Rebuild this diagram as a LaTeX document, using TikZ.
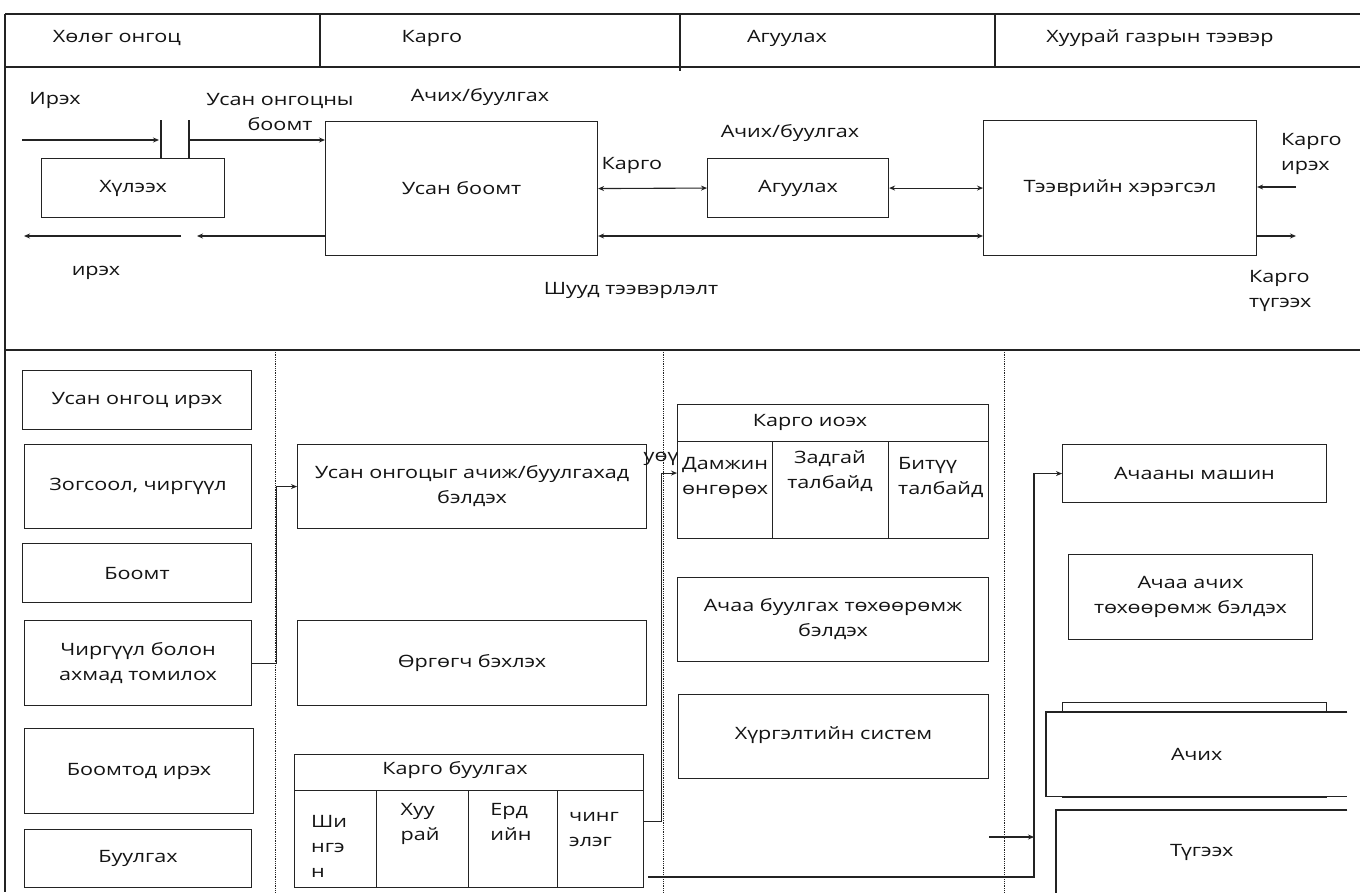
\documentclass[tikz,border=0pt]{standalone}
\usepackage{fontspec}
\setmainfont{Open Sans}[FakeStretch=1.27]
\usepackage{tikz}
\usetikzlibrary{arrows.meta,calc}
\usepackage{xcolor}
\definecolor{lineink}{RGB}{35,35,35}
\definecolor{textink}{RGB}{20,20,20}

\tikzset{
  box/.style={draw=lineink, line width=1.1pt, anchor=north west, inner sep=0pt, align=center, fill=white},
  arr/.style={draw=lineink, line width=1.1pt, -{Stealth[length=6pt,width=5pt]}},
  darr/.style={draw=lineink, line width=1.1pt, {Stealth[length=6pt,width=5pt]}-{Stealth[length=6pt,width=5pt]}},
  lbl/.style={align=center, inner sep=0pt, text=textink},
  rule/.style={draw=lineink, line width=1.1pt},
  sep/.style={draw=lineink, line width=0.8pt, densely dotted},
}

\begin{document}
\begin{tikzpicture}[x=1pt, y=-1pt, font=\fontsize{17}{25}\selectfont, text=textink]
  \useasboundingbox (0,0) rectangle (1360,892);
  \clip (0,0) rectangle (1360,892);
  \fill[white] (0,0) rectangle (1360,892);

  % header row
  \draw[rule] (5,14) -- (1360,14);
  \draw[rule] (5,67) -- (1360,67);
  \draw[rule] (5,14) -- (5,892);
  \draw[rule] (320,14) -- (320,67);
  \draw[rule] (680,14) -- (680,71);
  \draw[rule] (995,14) -- (995,67);
  \node[lbl] (hShip) at (117,38) {Хөлөг онгоц};
  \node[lbl] (hCargo) at (432,38) {Карго};
  \node[lbl] (hStore) at (787,38) {Агуулах};
  \node[lbl] (hLand) at (1160,38) {Хуурай газрын тээвэр};

  % upper flow
  \node[lbl] (inLbl) at (55,100) {Ирэх};
  \node[lbl] (berthLbl) at (280,112) {Усан онгоцны\\боомт};
  \node[lbl] (handleA) at (480,97) {Ачих/буулгах};
  \node[box, minimum width=183, minimum height=59] (wait) at (41,158) {Хүлээх};
  \draw[rule] (161,120) -- (161,158);
  \draw[rule] (189,120) -- (189,158);
  \node[box, minimum width=272, minimum height=134] (port) at (325,121) {Усан боомт};
  \node[box, minimum width=181, minimum height=59] (store) at (707,158) {\raisebox{-7pt}{Агуулах}};
  \node[lbl] (handleB) at (790,133) {Ачих/буулгах};
  \node[box, minimum width=273, minimum height=135] (truck) at (983,120) {Тээврийн хэрэгсэл};
  \node[lbl] (cargoLbl) at (632,165) {Карго};
  \node[lbl] (outLbl) at (96,273) {ирэх};
  \node[lbl] (directLbl) at (631,290) {Шууд тээвэрлэлт};
  \node[lbl, align=left, anchor=west] (cinLbl) at (1281,154) {Карго\\ирэх};
  \node[lbl, align=left, anchor=west] (coutLbl) at (1249,291) {Карго\\түгээх};

  \coordinate (inA) at (22,140);
  \coordinate (inB) at (159,140);
  \coordinate (gateR) at (190,140);
  \coordinate (outA) at (181,236);
  \coordinate (outB) at (24,236);
  \coordinate (outC) at (197,236);
  \coordinate (cin) at (1296,187);
  \coordinate (cout) at (1296,236);
  \draw[arr] (inA) -- (inB);
  \draw[arr] (gateR) -- (gateR -| port.west);
  \draw[arr] (outA) -- (outB);
  \draw[arr] (outC -| port.west) -- (outC);
  \draw[darr] (port.east) -- (store.west);
  \draw[darr] (store.east) -- (truck.west);
  \draw[darr] (outC -| port.east) -- (outC -| truck.west);
  \draw[arr] (cin) -- (cin -| truck.east);
  \draw[arr] (cout -| truck.east) -- (cout);

  \draw[rule] (5,350) -- (1360,350);

  % lower columns
  \draw[sep] (275,350) -- (275,892);
  \draw[sep] (663,350) -- (663,892);
  \draw[sep] (1004,350) -- (1004,892);

  \node[box, minimum width=229, minimum height=59] (arrive) at (22,370) {Усан онгоц ирэх};
  \node[box, minimum width=227, minimum height=84] (moor) at (24,444) {Зогсоол, чиргүүл};
  \node[box, minimum width=229, minimum height=59] (dock) at (22,543) {Боомт};
  \node[box, minimum width=227, minimum height=85] (assign) at (24,620) {Чиргүүл болон\\ахмад томилох};
  \node[box, minimum width=229, minimum height=85] (reach) at (24,728) {Боомтод ирэх};
  \node[box, minimum width=227, minimum height=58] (unload) at (24,829) {Буулгах};

  \node[box, minimum width=349, minimum height=84] (prep) at (297,444) {Усан онгоцыг ачиж/буулгахад\\бэлдэх};
  \node[box, minimum width=349, minimum height=85] (crane) at (297,620) {Өргөгч бэхлэх};
  \node[box, minimum width=349, minimum height=36] (dropH) at (294,754) {};
  \node[lbl] (dropLbl) at (455,770) {Карго буулгах};
  \node[box, minimum width=82, minimum height=97] (liquid) at (294,790) {};
  \node[box, minimum width=92, minimum height=97] (dry) at (376,790) {};
  \node[box, minimum width=89, minimum height=97] (bulk) at (468,790) {};
  \node[box, minimum width=86, minimum height=97] (chain) at (557,790) {};
  \node[lbl, align=left, anchor=west] (liquidLbl) at (311,846) {Ши\\нгэ\\н};
  \node[lbl, align=left] (dryLbl) at (420,824) {Хуу\\рай};
  \node[lbl, align=left] (bulkLbl) at (511,822) {Ерд\\ийн};
  \node[lbl, align=left] (chainLbl) at (594,830) {чинг\\элэг};

  \node[lbl] (cutLbl) at (661,459) {уөү};
  \node[box, minimum width=311, minimum height=37] (keepH) at (677,404) {};
  \node[lbl] (keepLbl) at (810,422) {Карго иоэх};
  \node[box, minimum width=95, minimum height=97] (transit) at (677,441) {};
  \node[box, minimum width=116, minimum height=97] (openyard) at (772,441) {};
  \node[box, minimum width=100, minimum height=97, fill=none] (shedyard) at (888,441) {};
  \node[lbl, align=left, anchor=west] (transitLbl) at (682,478) {Дамжин\\өнгөрөх};
  \node[lbl] (openLbl) at (830,471) {Задгай\\талбайд};
  \node[lbl, align=left, anchor=west] (shedLbl) at (898,477) {Битүү\\талбайд};
  \node[box, minimum width=311, minimum height=84] (gear) at (677,577) {Ачаа буулгах төхөөрөмж\\бэлдэх};
  \node[box, minimum width=310, minimum height=84] (deliver) at (678,694) {\raisebox{6pt}{Хүргэлтийн систем}};

  \node[box, minimum width=264, minimum height=58] (lorry) at (1062,444) {Ачааны машин};
  \node[box, minimum width=244, minimum height=85] (loadgear) at (1068,554) {Ачаа ачих\\төхөөрөмж бэлдэх};
  \node[box, minimum width=264, minimum height=95] (loadback) at (1062,702) {};
  \node[anchor=north west, inner sep=0pt, fill=white, minimum width=301, minimum height=84] (load) at (1046,712) {Ачих};
  \draw[rule] (load.north east) -- (load.north west) -- (load.south west) -- (load.south east);
  \node[anchor=north west, inner sep=0pt, minimum width=291, minimum height=84] (ship) at (1056,810) {Түгээх};
  \draw[rule] (ship.north east) -- (ship.north west) -- (ship.south west);

  % lower connectors
  \coordinate (busA) at (648,877);
  \coordinate (feedA) at (989,837);
  \coordinate (feedB) at (1034,837);
  \draw[arr] (assign.east) -- ++(24,0) |- (prep.west);
  \draw[arr] ([yshift=18pt]chain.east) -- ++(17,0) |- ([yshift=17pt]transit.west);
  \draw[arr] (busA) -- (1034,877) |- (lorry.west);
  \draw[arr] (feedA) -- (feedB);
\end{tikzpicture}
\end{document}
